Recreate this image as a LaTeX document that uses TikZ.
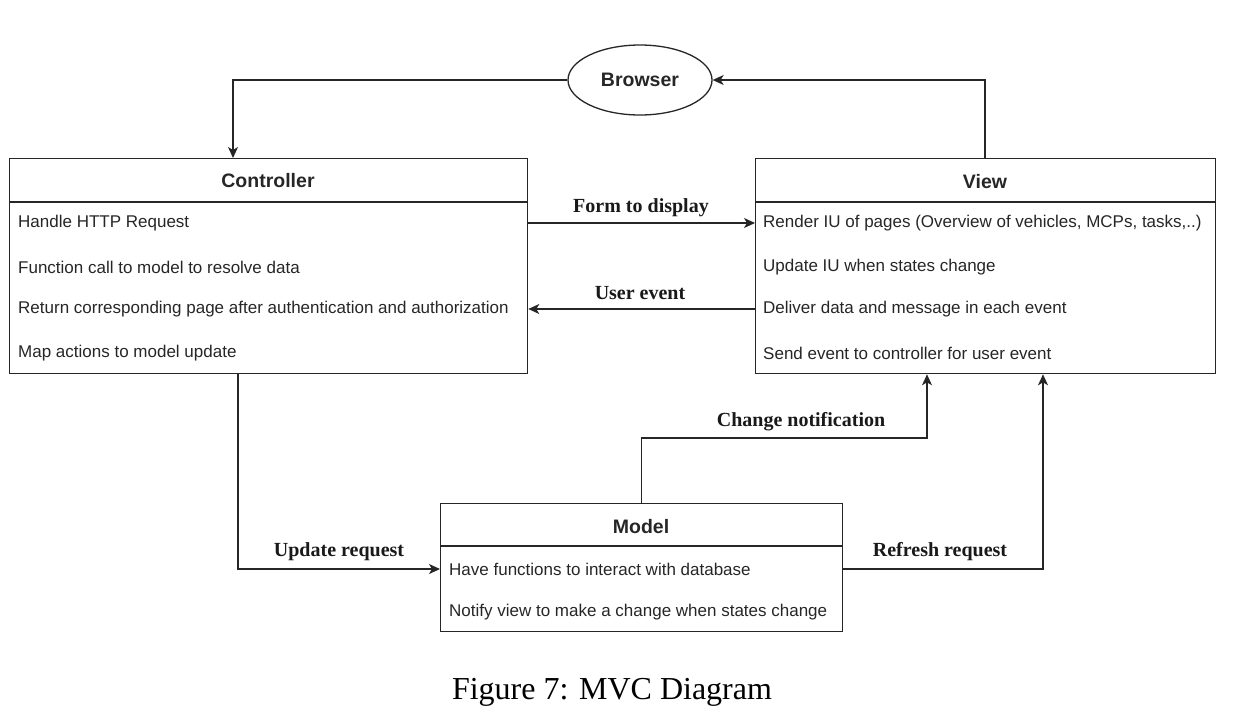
\documentclass[tikz,border=0pt]{standalone}
\usepackage{fontspec}
\setmainfont{Liberation Serif}
\setsansfont{Liberation Sans}
\usetikzlibrary{shapes.geometric,arrows.meta}
\begin{document}
\begin{tikzpicture}[x=1pt,y=-1pt,
  box/.style={draw=black!85, line width=1.3pt, anchor=north west, inner sep=0pt},
  head/.style={font=\sffamily\bfseries\fontsize{19.5}{22}\selectfont, text=black!85},
  row/.style={font=\sffamily\fontsize{17}{20}\selectfont, anchor=west, inner sep=0pt, text=black!85},
  lbl/.style={font=\rmfamily\bfseries\fontsize{20}{23}\selectfont, text=black!90},
  arr/.style={draw=black!85, line width=1.2pt, -{Stealth[length=11pt,width=10pt,inset=3pt]}}]
\useasboundingbox (0,0) rectangle (1236,724);
% Browser
\node[ellipse, draw=black!85, line width=1.3pt, minimum width=144pt, minimum height=70pt, inner sep=0pt,
      font=\sffamily\bfseries\fontsize{19.5}{22}\selectfont, text=black!85] (browser) at (640,80) {Browser};
% Controller
\node[box, minimum width=518pt, minimum height=215pt] (ctrl) at (9,158) {};
\draw[draw=black!85, line width=1.3pt] (ctrl.north west |- 0,202) -- (ctrl.north east |- 0,202);
\node[head] (ctrlh) at (268,181) {Controller};
\node[row] (ctrl1) at (18,223) {Handle HTTP Request};
\node[row] (ctrl2) at (18,267) {Function call to model to resolve data};
\node[row] (ctrl3) at (18,309) {Return corresponding page after authentication and authorization};
\node[row] (ctrl4) at (18,353) {Map actions to model update};
% View
\node[box, minimum width=460pt, minimum height=215pt] (view) at (755,158) {};
\draw[draw=black!85, line width=1.3pt] (view.north west |- 0,202) -- (view.north east |- 0,202);
\node[head] (viewh) at (985,182) {View};
\node[row] (view1) at (763,223) {Render IU of pages (Overview of vehicles, MCPs, tasks,..)};
\node[row] (view2) at (763,267) {Update IU when states change};
\node[row] (view3) at (763,309) {Deliver data and message in each event};
\node[row] (view4) at (763,353) {Send event to controller for user event};
% Model
\node[box, minimum width=402pt, minimum height=128pt] (model) at (440,503) {};
\draw[draw=black!85, line width=1.3pt] (model.north west |- 0,546) -- (model.north east |- 0,546);
\node[head] (modelh) at (641,527) {Model};
\node[row] (model1) at (449,569) {Have functions to interact with database};
\node[row] (model2) at (449,612) {Notify view to make a change when states change};
% connectors
\draw[arr] (browser.west) -| ([xshift=224pt]ctrl.north west);
\draw[arr] ([xshift=230pt]view.north west) |- (browser.east);
\draw[arr] (ctrl.east |- ctrl1) -- (view.west |- ctrl1);
\draw[arr] (view.west |- view3) -- (ctrl.east |- view3);
\draw[arr] ([xshift=229pt]ctrl.south west) |- (model.west |- model1);
\draw[arr] (model.north) -- (model.north |- 0,438) -| ([xshift=172pt]view.south west);
\draw[arr] (model.east |- model1) -| ([xshift=288pt]view.south west);
% labels
\node[lbl] (l1) at (641,208) {Form to display};
\node[lbl] (l2) at (640,293) {User event};
\node[lbl] (l3) at (339,552) {Update request};
\node[lbl] (l4) at (801,422) {Change notification};
\node[lbl] (l5) at (940,552) {Refresh request};
% caption
\node[font=\rmfamily\fontsize{32}{36}\selectfont] (cap) at (612,692) {Figure 7: MVC Diagram};
\end{tikzpicture}
\end{document}
